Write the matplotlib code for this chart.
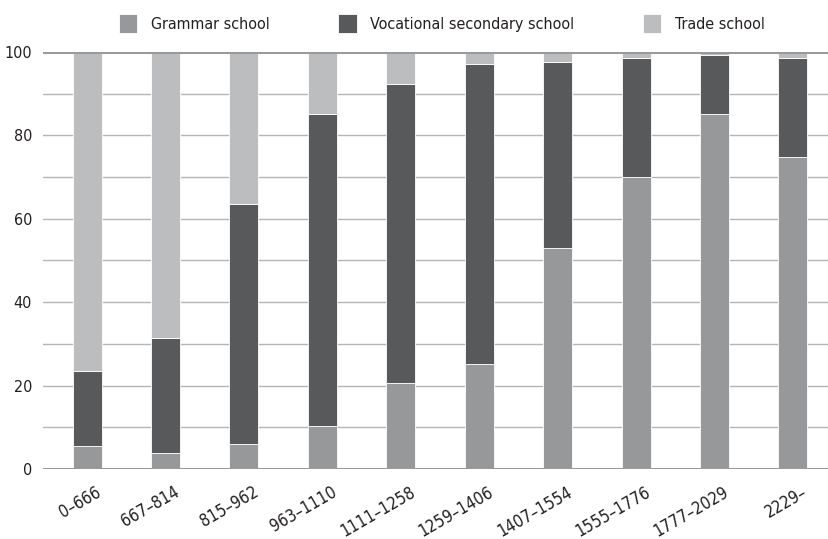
import numpy as np
import matplotlib.pyplot as plt
import matplotlib.transforms as mtransforms

# income bands
categories = ['0–666', '667–814', '815–962', '963–1110', '1111–1258',
              '1259–1406', '1407–1554', '1555–1776', '1777–2029', '2229–']
grammar = [5.6, 3.9, 6.0, 10.3, 20.7, 25.2, 53.1, 70.0, 85.1, 74.8]
vocational = [17.9, 27.4, 57.5, 74.9, 71.7, 71.9, 44.4, 28.5, 14.1, 23.8]
trade = [76.5, 68.7, 36.5, 14.8, 7.6, 2.9, 2.5, 1.5, 0.8, 1.4]

series = ['Grammar school', 'Vocational secondary school', 'Trade school']
colors = ['#97989a', '#58595b', '#bcbdbf']

plt.rcParams['font.family'] = ['DejaVu Sans']
plt.rcParams['font.stretch'] = 'condensed'

fig = plt.figure(figsize=(8.29, 5.39), dpi=100)
ax = fig.add_axes([0.052, 0.13, 0.948, 0.7735])

x = np.arange(len(categories))
w = 0.37
bottom = np.zeros(len(categories))
handles = []
for vals, c, name in zip([grammar, vocational, trade], colors, series):
    b = ax.bar(x, vals, w, bottom=bottom, color=c, edgecolor='white',
               linewidth=0.6, label=name, zorder=3)
    handles.append(b)
    bottom = bottom + np.array(vals)

# gridlines
for yv in range(10, 100, 10):
    ax.axhline(yv, color='#b5b5b5', lw=1.0, zorder=1)
ax.axhline(0, color='#9a9a9a', lw=2.2, zorder=4)
ax.axhline(100, color='#9a9a9a', lw=2.2, zorder=4)

ax.set_xlim(-0.56, 9.46)
ax.set_ylim(0, 100)
for s in ax.spines.values():
    s.set_visible(False)

ax.set_yticks(range(0, 101, 20))
ax.tick_params(axis='y', length=0, pad=8, labelsize=11.5, labelcolor='#231f20')
ax.set_xticks(x)
ax.set_xticklabels(categories, rotation=30, ha='right', rotation_mode='anchor',
                   fontsize=12, color='#231f20')
ax.tick_params(axis='x', length=0, pad=10)
offset = mtransforms.ScaledTranslation(6 / 72, 0, fig.dpi_scale_trans)
for lab in ax.get_xticklabels():
    lab.set_transform(lab.get_transform() + offset)

fig.legend(handles=handles, labels=series, loc='upper center',
           bbox_to_anchor=(0.533, 1.0), ncol=3, frameon=False, fontsize=11.5,
           handlelength=1.15, handleheight=1.4, columnspacing=4.3,
           handletextpad=0.85, labelcolor='#231f20')

fig.savefig('out.png', dpi=100)
